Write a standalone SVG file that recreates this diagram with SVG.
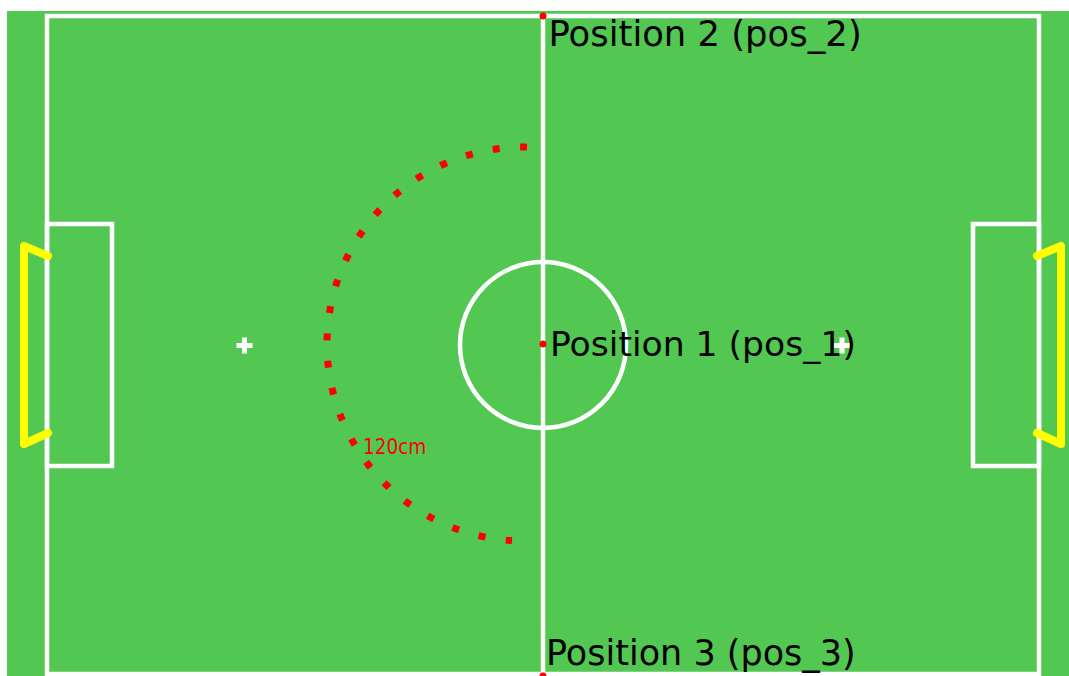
<svg xmlns="http://www.w3.org/2000/svg" width="1069" height="676" viewBox="0 0 1069 676">
  <style>
    .line { fill: none; stroke: #ffffff; stroke-width: 4.5; }
    .goal { fill: none; stroke: #ffff00; stroke-width: 8; stroke-linecap: round; stroke-linejoin: round; }
    .label { font-family: "DejaVu Sans", sans-serif; font-size: 35.4px; fill: #000000; }
    .pt { fill: #ff0000; }
  </style>
  <rect x="0" y="0" width="1069" height="676" fill="#ffffff"/>
  <g id="field">
    <rect x="7" y="11" width="1062" height="665" fill="#52c852"/>
    <rect class="line" x="47" y="16" width="992" height="658"/>
    <line class="line" x1="543" y1="16" x2="543" y2="674"/>
    <circle class="line" cx="543" cy="345" r="83"/>
  </g>
  <g id="left-penalty-area">
    <rect class="line" x="47" y="224" width="65" height="242"/>
    <path d="M236.5 345.5 H252.5 M244.5 337.5 V353.5" stroke="#ffffff" stroke-width="5" fill="none"/>
  </g>
  <g id="right-penalty-area">
    <rect class="line" x="973" y="224" width="66" height="242"/>
    <path d="M834 345.5 H850 M842 337.5 V353.5" stroke="#ffffff" stroke-width="5" fill="none"/>
  </g>
  <g id="left-goal">
    <polyline class="goal" points="48,256 24,246 24,444 48,433"/>
  </g>
  <g id="right-goal">
    <polyline class="goal" points="1037,256 1061,246 1061,444 1037,433"/>
  </g>
  <g id="radius-arc">
    <path d="M527 147 A197 197 0 0 0 327 344 A197 197 0 0 0 512 540.6" fill="none" stroke="#ff0000" stroke-width="7" stroke-dasharray="7 20.42"/>
    <text x="363" y="454" font-family="'DejaVu Sans Condensed', 'DejaVu Sans', sans-serif" font-stretch="condensed" font-size="20.5" fill="#ff0000">120cm</text>
  </g>
  <g id="pos_2">
    <circle class="pt" cx="543" cy="16" r="3.5"/>
    <text class="label" x="548.5" y="46">Position 2 (pos_2)</text>
  </g>
  <g id="pos_1">
    <circle class="pt" cx="543" cy="344" r="3.5"/>
    <text class="label" x="550" y="356" style="font-size:34.6px">Position 1 (pos_1)</text>
  </g>
  <g id="pos_3">
    <circle class="pt" cx="543" cy="676" r="3.5"/>
    <text class="label" x="546" y="665" style="font-size:35px">Position 3 (pos_3)</text>
  </g>
</svg>
